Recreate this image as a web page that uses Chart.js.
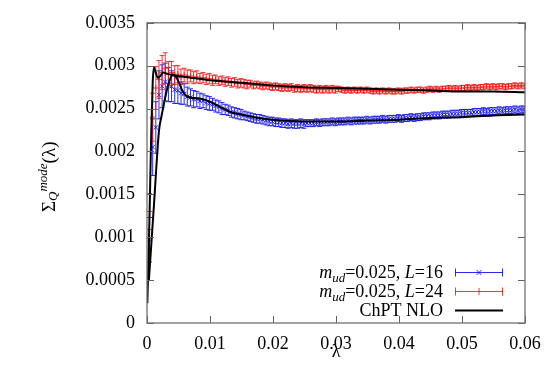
<!DOCTYPE html>
<html>
<head>
<meta charset="utf-8">
<script src="https://cdn.jsdelivr.net/npm/chart.js@4.4.1/dist/chart.umd.min.js"></script>
<style>
html,body{margin:0;padding:0;background:#fff;}
#wrap{width:545px;height:382px;}
</style>
</head>
<body>
<div id="wrap"><canvas id="c" width="545" height="382"></canvas></div>
<script>
// ---- data ----
const lambdaGrid = [
0.0004,0.0009,0.0014,0.0019,0.0024,0.0029,0.0034,0.0039,0.0044,0.0049,
0.0054,0.0059,0.0064,0.0069,0.0074,0.0079,0.0084,0.0089,0.0094,0.0099,
0.0104,0.0109,0.0114,0.0119,0.0124,0.0129,0.0134,0.0139,0.0144,0.0149,
0.0154,0.0159,0.0164,0.0169,0.0174,0.0179,0.0184,0.0189,0.0194,0.0199,
0.0204,0.0209,0.0214,0.0219,0.0224,0.0229,0.0234,0.0239,0.0244,0.0249,
0.0254,0.0259,0.0264,0.0269,0.0274,0.0279,0.0284,0.0289,0.0294,0.0299,
0.0304,0.0309,0.0314,0.0319,0.0324,0.0329,0.0334,0.0339,0.0344,0.0349,
0.0354,0.0359,0.0364,0.0369,0.0374,0.0379,0.0384,0.0389,0.0394,0.0399,
0.0404,0.0409,0.0414,0.0419,0.0424,0.0429,0.0434,0.0439,0.0444,0.0449,
0.0454,0.0459,0.0464,0.0469,0.0474,0.0479,0.0484,0.0489,0.0494,0.0499,
0.0504,0.0509,0.0514,0.0519,0.0524,0.0529,0.0534,0.0539,0.0544,0.0549,
0.0554,0.0559,0.0564,0.0569,0.0574,0.0579,0.0584,0.0589,0.0594,0.0599];

const sigmaL16 = [
0.00097,0.00205,0.00228,0.00266,0.00276,0.00281,0.00278,0.00276,0.00272,0.00271,
0.00268,0.00267,0.00264,0.00263,0.00261,0.00261,0.00259,0.00259,0.00257,0.00256,
0.00255,0.00253,0.00252,0.00250,0.00249,0.00248,0.00246,0.00245,0.00244,0.00243,
0.00242,0.00241,0.00240,0.00239,0.00238,0.00238,0.00237,0.00236,0.00235,0.00235,
0.00234,0.00234,0.00233,0.00233,0.00232,0.00233,0.00232,0.00232,0.00233,0.00232,
0.00233,0.00233,0.00233,0.00234,0.00233,0.00234,0.00234,0.00234,0.00235,0.00234,
0.00235,0.00235,0.00235,0.00236,0.00235,0.00236,0.00236,0.00236,0.00236,0.00237,
0.00236,0.00237,0.00237,0.00237,0.00238,0.00237,0.00238,0.00238,0.00238,0.00239,
0.00238,0.00239,0.00239,0.00240,0.00239,0.00240,0.00240,0.00241,0.00241,0.00241,
0.00242,0.00242,0.00242,0.00243,0.00243,0.00243,0.00244,0.00244,0.00244,0.00245,
0.00245,0.00245,0.00245,0.00246,0.00246,0.00246,0.00247,0.00246,0.00247,0.00247,
0.00247,0.00248,0.00247,0.00248,0.00248,0.00248,0.00249,0.00248,0.00249,0.00249];

const errL16 = [
0.00026,0.00033,0.00030,0.00028,0.00025,0.00022,0.00020,0.00018,0.00016,0.00015,
0.00013,0.00012,0.00011,0.00010,0.00010,0.00009,0.00009,0.00008,0.00008,0.00008,
0.00007,0.00007,0.00007,0.00007,0.00006,0.00006,0.00006,0.00006,0.00006,0.00006,
0.00005,0.00005,0.00005,0.00005,0.00005,0.00005,0.00005,0.00005,0.00005,0.00005,
0.00005,0.00005,0.00005,0.00005,0.00005,0.00005,0.00005,0.00005,0.00005,0.00005,
0.00004,0.00004,0.00004,0.00004,0.00004,0.00004,0.00004,0.00004,0.00004,0.00004,
0.00004,0.00004,0.00004,0.00004,0.00004,0.00004,0.00004,0.00004,0.00004,0.00004,
0.00004,0.00004,0.00004,0.00004,0.00004,0.00004,0.00004,0.00004,0.00004,0.00004,
0.00004,0.00004,0.00004,0.00004,0.00004,0.00004,0.00004,0.00004,0.00004,0.00004,
0.00004,0.00004,0.00004,0.00004,0.00004,0.00004,0.00004,0.00004,0.00004,0.00004,
0.00004,0.00004,0.00004,0.00004,0.00004,0.00004,0.00004,0.00004,0.00004,0.00004,
0.00004,0.00004,0.00004,0.00004,0.00004,0.00004,0.00004,0.00004,0.00004,0.00004];

const sigmaL24 = [
0.00130,0.00240,0.00274,0.00284,0.00292,0.00297,0.00290,0.00292,0.00289,0.00290,
0.00287,0.00289,0.00287,0.00288,0.00286,0.00287,0.00285,0.00286,0.00284,0.00285,
0.00283,0.00284,0.00282,0.00283,0.00281,0.00282,0.00280,0.00281,0.00279,0.00280,
0.00279,0.00278,0.00279,0.00277,0.00278,0.00277,0.00276,0.00277,0.00276,0.00275,
0.00276,0.00275,0.00274,0.00275,0.00274,0.00275,0.00273,0.00274,0.00273,0.00274,
0.00273,0.00274,0.00273,0.00272,0.00273,0.00272,0.00273,0.00272,0.00273,0.00272,
0.00273,0.00272,0.00271,0.00272,0.00271,0.00272,0.00271,0.00272,0.00271,0.00272,
0.00271,0.00270,0.00271,0.00270,0.00271,0.00270,0.00271,0.00270,0.00270,0.00271,
0.00270,0.00271,0.00271,0.00272,0.00271,0.00272,0.00272,0.00271,0.00272,0.00273,
0.00272,0.00273,0.00272,0.00273,0.00273,0.00274,0.00273,0.00274,0.00273,0.00274,
0.00274,0.00275,0.00274,0.00275,0.00274,0.00275,0.00275,0.00276,0.00275,0.00276,
0.00275,0.00276,0.00276,0.00275,0.00276,0.00276,0.00277,0.00276,0.00277,0.00276];

const errL24 = [
0.00021,0.00028,0.00025,0.00022,0.00020,0.00018,0.00015,0.00013,0.00011,0.00010,
0.00009,0.00008,0.00008,0.00007,0.00007,0.00007,0.00006,0.00006,0.00006,0.00006,
0.00006,0.00005,0.00005,0.00005,0.00005,0.00005,0.00005,0.00005,0.00005,0.00005,
0.00005,0.00005,0.00004,0.00004,0.00004,0.00004,0.00004,0.00004,0.00004,0.00004,
0.00004,0.00004,0.00004,0.00004,0.00004,0.00004,0.00004,0.00004,0.00004,0.00004,
0.00004,0.00004,0.00004,0.00004,0.00004,0.00004,0.00004,0.00004,0.00004,0.00004,
0.00003,0.00003,0.00003,0.00003,0.00003,0.00003,0.00003,0.00003,0.00003,0.00003,
0.00003,0.00003,0.00003,0.00003,0.00003,0.00003,0.00003,0.00003,0.00003,0.00003,
0.00003,0.00003,0.00003,0.00003,0.00003,0.00003,0.00003,0.00003,0.00003,0.00003,
0.00003,0.00003,0.00003,0.00003,0.00003,0.00003,0.00003,0.00003,0.00003,0.00003,
0.00003,0.00003,0.00003,0.00003,0.00003,0.00003,0.00003,0.00003,0.00003,0.00003,
0.00003,0.00003,0.00003,0.00003,0.00003,0.00003,0.00003,0.00003,0.00003,0.00003];

// ChPT NLO curves
const chptL16Lambda = [0.0003,0.0011,0.0019,0.0023,0.0027,0.0032,0.0037,0.0041,0.0046,0.0051,0.0056,0.0062,0.0068,0.0078,0.0088,0.0100,0.0116,0.0132,0.0150,0.0170,0.0200,0.0250,0.0300,0.0350,0.0400,0.0450,0.0500,0.0550,0.0600];
const chptL16Sigma  = [0.00050,0.00137,0.00224,0.00241,0.00256,0.00273,0.00285,0.00290,0.00287,0.00280,0.00271,0.00265,0.00263,0.00262,0.00261,0.00258,0.00252,0.00246,0.00243,0.00240,0.00237,0.00235,0.00235,0.00236,0.00237,0.00239,0.00240,0.00242,0.00243];
const chptL24Lambda = [0.00005,0.0004,0.00068,0.0009,0.0011,0.0014,0.0017,0.0021,0.0026,0.0030,0.0040,0.0050,0.0070,0.0100,0.0150,0.0200,0.0250,0.0300,0.0350,0.0400,0.0450,0.0500,0.0550,0.0600];
const chptL24Sigma  = [0.00023,0.00125,0.00224,0.00280,0.00298,0.00292,0.00286,0.00288,0.00292,0.00291,0.00289,0.00288,0.00286,0.00283,0.00280,0.00277,0.00275,0.00274,0.00273,0.00272,0.00271,0.00270,0.00270,0.00269];

const xTickStep = 0.01, yTickStep = 0.0005;
const seriesLabels = ['m_ud=0.025, L=16','m_ud=0.025, L=24','ChPT NLO'];

// ---- build datasets ----
const pts = (xs, ys) => xs.map((x, i) => ({x: x, y: ys[i]}));
const BLUE = 'rgba(20,20,235,0.9)';
const RED = 'rgba(245,20,20,0.85)';
const SERIF = '"Liberation Serif","DejaVu Serif",serif';

const errorBars = {
  id: 'errorBars',
  beforeDatasetDraw(chart, args) {
    const ds = chart.data.datasets[args.index];
    if (!ds.errors) return;
    const xs = chart.scales.x, ys = chart.scales.y, ctx = chart.ctx, a = chart.chartArea;
    ctx.save();
    ctx.beginPath(); ctx.rect(a.left, a.top, a.right - a.left, a.bottom - a.top); ctx.clip();
    ctx.strokeStyle = ds.borderColor; ctx.lineWidth = 1;
    ctx.beginPath();
    ds.data.forEach((p, i) => {
      const px = xs.getPixelForValue(p.x);
      const y1 = ys.getPixelForValue(p.y - ds.errors[i]);
      const y2 = ys.getPixelForValue(p.y + ds.errors[i]);
      ctx.moveTo(px, y1); ctx.lineTo(px, y2);
      ctx.moveTo(px - 2.5, y1); ctx.lineTo(px + 2.5, y1);
      ctx.moveTo(px - 2.5, y2); ctx.lineTo(px + 2.5, y2);
    });
    ctx.stroke();
    ctx.restore();
  }
};

function richText(ctx, x, y, parts) {
  let cx = x;
  parts.forEach(p => {
    ctx.font = p.font;
    ctx.fillText(p.t, cx, y + (p.dy || 0));
    cx += ctx.measureText(p.t).width;
  });
  return cx;
}
function richWidth(ctx, parts) {
  let w = 0;
  parts.forEach(p => { ctx.font = p.font; w += ctx.measureText(p.t).width; });
  return w;
}

const frameAndText = {
  id: 'frameAndText',
  afterDraw(chart) {
    const ctx = chart.ctx, a = chart.chartArea, xs = chart.scales.x, ys = chart.scales.y;
    ctx.save();
    // ticks (inward, mirrored)
    ctx.strokeStyle = '#606060'; ctx.lineWidth = 1;
    ctx.beginPath();
    ys.ticks.forEach(t => {
      const py = Math.round(ys.getPixelForValue(t.value)) + 0.5;
      ctx.moveTo(a.left, py); ctx.lineTo(a.left + 7, py);
      ctx.moveTo(a.right, py); ctx.lineTo(a.right - 7, py);
    });
    xs.ticks.forEach(t => {
      const px = Math.round(xs.getPixelForValue(t.value)) + 0.5;
      ctx.moveTo(px, a.bottom); ctx.lineTo(px, a.bottom - 7);
      ctx.moveTo(px, a.top); ctx.lineTo(px, a.top + 7);
    });
    ctx.stroke();
    // frame
    ctx.strokeStyle = '#707070'; ctx.lineWidth = 1.3;
    ctx.strokeRect(a.left, a.top, a.right - a.left, a.bottom - a.top);

    ctx.fillStyle = '#000';
    ctx.textBaseline = 'alphabetic';
    // x title
    ctx.font = '18px ' + SERIF; ctx.textAlign = 'center';
    ctx.fillText('λ', (a.left + a.right) / 2, 357);

    // y title (rotated), gnuplot-style sequential sub/superscript
    ctx.textAlign = 'left';
    ctx.save();
    ctx.translate(55, 212);
    ctx.rotate(-Math.PI / 2);
    richText(ctx, 0, 0, [
      {t: 'Σ', font: '19px ' + SERIF},
      {t: 'Q', font: 'italic 13px ' + SERIF, dy: 2},
      {t: 'mode', font: 'italic 13px ' + SERIF, dy: -8},
      {t: '(λ)', font: '19px ' + SERIF}
    ]);
    ctx.restore();

    // legend
    const rows = [
      {label: seriesLabels[0], color: BLUE, marker: 'x', err: true},
      {label: seriesLabels[1], color: RED, marker: '+', err: true},
      {label: seriesLabels[2], color: '#000', marker: null, err: false}
    ];
    const textRight = 443, lx1 = 455, lx2 = 503, base0 = 278, step = 19;
    rows.forEach((r, i) => {
      const base = base0 + i * step;
      let parts;
      const m = r.label.match(/^m_ud=(.*), L=(.*)$/);
      if (m) {
        parts = [
          {t: 'm', font: 'italic 18px ' + SERIF},
          {t: 'ud', font: 'italic 13px ' + SERIF, dy: 4},
          {t: '=' + m[1] + ', ', font: '18px ' + SERIF},
          {t: 'L', font: 'italic 18px ' + SERIF},
          {t: '=' + m[2], font: '18px ' + SERIF}
        ];
      } else {
        parts = [{t: r.label, font: '18px ' + SERIF}];
      }
      ctx.fillStyle = '#000';
      const w = richWidth(ctx, parts);
      richText(ctx, textRight - w, base, parts);
      const ly = base - 5.5;
      ctx.strokeStyle = r.color;
      ctx.lineWidth = r.err ? 1 : 2;
      ctx.beginPath();
      ctx.moveTo(lx1, ly); ctx.lineTo(lx2, ly);
      if (r.err) {
        ctx.moveTo(lx1 + 0.5, ly - 4); ctx.lineTo(lx1 + 0.5, ly + 4);
        ctx.moveTo(lx2 - 0.5, ly - 4); ctx.lineTo(lx2 - 0.5, ly + 4);
        const mx = (lx1 + lx2) / 2;
        if (r.marker === 'x') {
          ctx.moveTo(mx - 2.5, ly - 2.5); ctx.lineTo(mx + 2.5, ly + 2.5);
          ctx.moveTo(mx - 2.5, ly + 2.5); ctx.lineTo(mx + 2.5, ly - 2.5);
        } else {
          ctx.moveTo(mx, ly - 3.5); ctx.lineTo(mx, ly + 3.5);
        }
      }
      ctx.stroke();
    });
    ctx.restore();
  }
};

new Chart(document.getElementById('c'), {
  type: 'scatter',
  data: {
    datasets: [
      {label: seriesLabels[2] + ' L=24', type: 'line', data: pts(chptL24Lambda, chptL24Sigma), borderColor: '#000', borderWidth: 2, pointRadius: 0, cubicInterpolationMode: 'monotone', fill: false, order: 0},
      {label: seriesLabels[2] + ' L=16', type: 'line', data: pts(chptL16Lambda, chptL16Sigma), borderColor: '#000', borderWidth: 2, pointRadius: 0, cubicInterpolationMode: 'monotone', fill: false, order: 0},
      {label: seriesLabels[1], data: pts(lambdaGrid, sigmaL24), errors: errL24, borderColor: RED, backgroundColor: RED, pointStyle: 'cross', pointRadius: 3, borderWidth: 1, order: 1},
      {label: seriesLabels[0], data: pts(lambdaGrid, sigmaL16), errors: errL16, borderColor: BLUE, backgroundColor: BLUE, pointStyle: 'crossRot', pointRadius: 3, borderWidth: 1, order: 2}
    ]
  },
  options: {
    responsive: false,
    animation: false,
    clip: 0,
    layout: {padding: {top: 22, right: 20, left: 0, bottom: 0}},
    plugins: {legend: {display: false}, tooltip: {enabled: false}},
    scales: {
      x: {
        type: 'linear', min: 0, max: 0.06,
        afterFit(s) { s.height = 59; },
        grid: {display: true, drawOnChartArea: false, drawTicks: true, tickLength: 9, color: 'rgba(0,0,0,0)'},
        border: {display: false},
        ticks: {stepSize: xTickStep, padding: 1, color: '#000', font: {family: SERIF, size: 18},
          callback: v => String(Number(v.toFixed(4)))}
      },
      y: {
        type: 'linear', min: 0, max: 0.0035,
        afterFit(s) { s.width = 147; },
        grid: {display: false, drawTicks: false},
        border: {display: false},
        ticks: {stepSize: yTickStep, padding: 12, color: '#000', font: {family: SERIF, size: 18},
          callback: v => String(Number(v.toFixed(5)))}
      }
    }
  },
  plugins: [errorBars, frameAndText]
});
</script>
</body>
</html>
